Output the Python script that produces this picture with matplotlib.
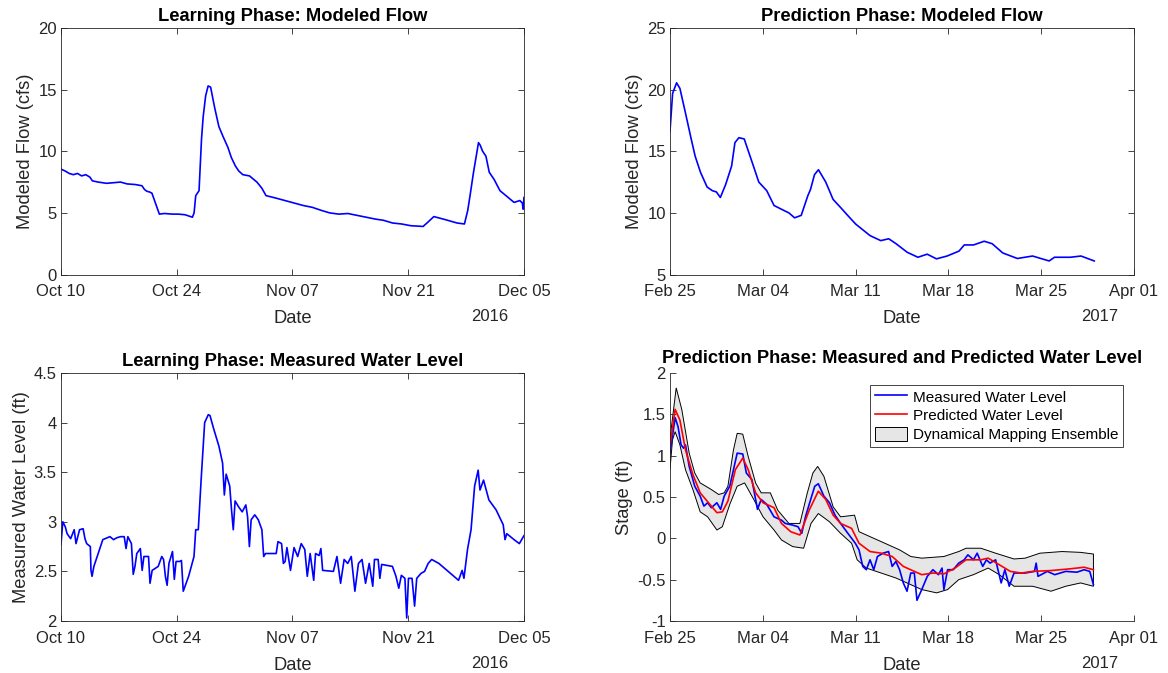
import numpy as np
import pandas as pd
import matplotlib
matplotlib.use('Agg')
import matplotlib.pyplot as plt
import matplotlib.dates as mdates
from matplotlib.patches import Patch
from matplotlib.lines import Line2D

plt.rcParams['font.family'] = ['Liberation Sans', 'DejaVu Sans']
plt.rcParams['axes.unicode_minus'] = False

# ---- data (days after start date) ----
learn_start = pd.Timestamp('2016-10-10')
pred_start = pd.Timestamp('2017-02-25')

flow_learn_day = [
    0, 0.5, 1.0, 1.5, 2.0, 2.5, 3.0, 3.5, 3.8, 4.5,
    5.5, 6.4, 7.2, 8.0, 9.0, 9.8, 10.1, 10.4, 10.7, 11.0,
    11.9, 12.5, 13.5, 14.2, 15.0, 15.9, 16.1, 16.3, 16.5, 16.7,
    17.0, 17.2, 17.5, 17.8, 18.1, 18.6, 19.1, 19.6, 20.2, 20.6,
    21.1, 21.5, 22.0, 22.8, 23.7, 24.3, 24.8, 26.0, 27.1, 28.2,
    29.3, 30.4, 31.5, 32.5, 33.6, 34.7, 35.8, 36.9, 38.0, 39.0,
    40.1, 41.2, 42.3, 43.8, 44.3, 45.1, 46.5, 47.9, 48.8, 49.2,
    49.5, 49.9, 50.3, 50.5, 50.7, 51.0, 51.4, 51.8, 52.4, 53.1,
    54.0, 54.8, 55.5, 55.8, 55.9, 56.0]
flow_learn = [
    8.55, 8.4, 8.2, 8.1, 8.2, 8.0, 8.1, 7.9, 7.6, 7.5,
    7.4, 7.45, 7.5, 7.35, 7.3, 7.2, 6.9, 6.75, 6.7, 6.6,
    4.9, 4.95, 4.9, 4.9, 4.85, 4.65, 5.0, 6.4, 6.6, 6.8,
    11.0, 12.8, 14.5, 15.3, 15.2, 13.5, 12.0, 11.2, 10.3, 9.5,
    8.8, 8.4, 8.1, 8.0, 7.5, 7.0, 6.4, 6.2, 6.0, 5.8,
    5.6, 5.45, 5.2, 5.0, 4.9, 4.95, 4.8, 4.65, 4.5, 4.4,
    4.18, 4.1, 3.96, 3.9, 4.2, 4.7, 4.45, 4.18, 4.1, 5.2,
    6.5, 8.3, 9.9, 10.7, 10.5, 10.0, 9.6, 8.3, 7.7, 6.8,
    6.3, 5.85, 6.0, 5.8, 5.3, 6.25]

flow_pred_day = [
    0, 0.2, 0.5, 0.75, 1.17, 1.6, 1.9, 2.3, 2.8, 3.2,
    3.5, 3.8, 4.2, 4.65, 4.9, 5.2, 5.6, 6.2, 6.7, 7.3,
    7.85, 8.4, 8.97, 9.4, 9.9, 10.4, 10.6, 10.9, 11.2, 11.75,
    12.3, 12.9, 13.4, 14.0, 14.4, 15.1, 15.9, 16.5, 17.05, 17.9,
    18.7, 19.4, 20.1, 20.9, 21.8, 22.2, 22.9, 23.7, 24.3, 25.1,
    26.2, 27.35, 28.6, 29.0, 30.2, 31.0, 32.0]
flow_pred = [
    16.6, 19.7, 20.55, 20.1, 18.1, 16.0, 14.6, 13.3, 12.1, 11.8,
    11.7, 11.25, 12.3, 13.8, 15.7, 16.1, 16.0, 14.1, 12.5, 11.8,
    10.6, 10.3, 10.0, 9.6, 9.8, 11.4, 11.9, 13.1, 13.5, 12.5,
    11.1, 10.4, 9.8, 9.1, 8.75, 8.15, 7.75, 7.9, 7.5, 6.8,
    6.4, 6.65, 6.27, 6.5, 6.9, 7.4, 7.4, 7.7, 7.5, 6.75,
    6.3, 6.5, 6.1, 6.4, 6.4, 6.5, 6.1]

level_learn_day = [
    0, 0.22, 0.52, 0.74, 1.17, 1.6, 1.82, 2.25, 2.68, 2.9,
    3.11, 3.55, 3.63, 3.76, 3.98, 5.06, 5.92, 6.36, 6.79, 7.22,
    7.65, 7.87, 8.09, 8.52, 8.74, 8.95, 9.17, 9.6, 9.82, 10.03,
    10.25, 10.59, 10.77, 11.03, 11.76, 12.19, 12.41, 12.63, 12.84, 13.06,
    13.49, 13.71, 13.92, 14.36, 14.57, 14.79, 15.44, 16.09, 16.3, 16.61,
    16.95, 17.38, 17.82, 18.03, 18.46, 19.11, 19.55, 19.76, 19.98, 20.41,
    20.63, 20.84, 21.06, 21.49, 21.92, 22.36, 22.57, 22.79, 23.0, 23.44,
    23.87, 24.3, 24.52, 24.74, 26.03, 26.25, 26.68, 26.9, 27.11, 27.33,
    27.76, 28.19, 28.63, 29.06, 29.49, 29.79, 30.14, 30.57, 30.79, 31.22,
    31.44, 31.65, 32.95, 33.38, 33.82, 34.25, 34.68, 35.11, 35.55, 35.98,
    36.41, 36.84, 37.28, 37.71, 37.92, 38.36, 38.57, 38.79, 40.09, 40.52,
    40.86, 41.17, 41.6, 41.82, 42.03, 42.46, 42.77, 43.03, 43.55, 43.98,
    44.41, 44.84, 45.71, 48.09, 48.52, 48.74, 49.17, 49.6, 50.03, 50.46,
    50.68, 51.11, 51.76, 52.63, 53.49, 53.71, 53.92, 54.8, 55.44, 56.0]
level_learn = [
    2.77, 3.0, 2.95, 2.88, 2.83, 2.92, 2.78, 2.92, 2.93, 2.83,
    2.78, 2.75, 2.51, 2.45, 2.55, 2.82, 2.85, 2.82, 2.84, 2.85,
    2.85, 2.73, 2.85, 2.78, 2.47, 2.55, 2.68, 2.73, 2.51, 2.65,
    2.65, 2.65, 2.38, 2.51, 2.55, 2.65, 2.62, 2.45, 2.36, 2.58,
    2.70, 2.42, 2.6, 2.6, 2.61, 2.3, 2.45, 2.65, 2.92, 2.92,
    3.42, 4.0, 4.08, 4.07, 3.94, 3.76, 3.59, 3.27, 3.48, 3.36,
    3.12, 2.92, 3.21, 3.15, 3.10, 3.17, 3.05, 2.75, 3.02, 3.07,
    3.02, 2.92, 2.65, 2.68, 2.68, 2.8, 2.78, 2.58, 2.6, 2.74,
    2.51, 2.74, 2.65, 2.78, 2.72, 2.45, 2.68, 2.41, 2.68, 2.66,
    2.73, 2.51, 2.5, 2.65, 2.38, 2.62, 2.58, 2.65, 2.3, 2.58,
    2.62, 2.38, 2.58, 2.35, 2.62, 2.62, 2.43, 2.57, 2.55, 2.45,
    2.33, 2.46, 2.43, 2.03, 2.43, 2.43, 2.15, 2.43, 2.48, 2.5,
    2.58, 2.62, 2.58, 2.41, 2.51, 2.43, 2.72, 2.92, 3.36, 3.52,
    3.32, 3.42, 3.22, 3.12, 2.97, 2.82, 2.88, 2.82, 2.78, 2.86]

ens_upper_day = [
    0, 0.47, 0.89, 1.45, 1.87, 2.28, 3.12, 3.68, 4.09, 4.37,
    4.79, 5.07, 5.49, 5.9, 6.46, 6.88, 7.57, 8.13, 8.97, 9.8,
    10.36, 10.78, 11.14, 11.61, 12.31, 12.87, 13.92, 14.26, 15.09, 16.21,
    17.32, 18.16, 18.99, 20.66, 21.78, 22.33, 23.45, 24.56, 25.95, 26.79,
    27.9, 29.57, 30.97, 31.94]
ens_upper = [
    1.2, 1.82, 1.56, 1.03, 0.79, 0.67, 0.59, 0.53, 0.55, 0.63,
    1.07, 1.27, 1.26, 0.99, 0.67, 0.55, 0.55, 0.34, 0.18, 0.18,
    0.55, 0.79, 0.87, 0.75, 0.38, 0.26, 0.28, 0.08, 0.02, -0.06,
    -0.14, -0.22, -0.24, -0.22, -0.16, -0.12, -0.12, -0.18, -0.25, -0.24,
    -0.18, -0.16, -0.17, -0.19]

ens_lower_day = [
    0, 0.19, 0.39, 0.75, 1.17, 1.73, 2.28, 2.84, 3.54, 3.95,
    4.51, 5.07, 5.63, 6.32, 7.02, 7.85, 8.41, 9.25, 10.08, 10.64,
    11.19, 12.03, 12.87, 13.7, 14.12, 14.81, 15.93, 17.04, 17.88, 18.99,
    20.11, 20.94, 21.78, 22.89, 24.0, 24.84, 25.95, 27.35, 28.74, 29.85,
    30.97, 31.94]
ens_lower = [
    0.83, 1.19, 1.29, 1.13, 0.83, 0.59, 0.32, 0.26, 0.10, 0.14,
    0.41, 0.63, 0.67, 0.47, 0.26, 0.10, -0.02, -0.1, -0.12, 0.18,
    0.30, 0.20, 0.06, -0.06, -0.26, -0.36, -0.42, -0.48, -0.54, -0.62,
    -0.66, -0.62, -0.50, -0.44, -0.36, -0.44, -0.58, -0.58, -0.64, -0.58,
    -0.54, -0.58]

predicted_day = [
    0, 0.39, 0.75, 1.17, 1.73, 2.28, 3.12, 3.54, 3.95, 4.37,
    4.93, 5.49, 5.9, 6.46, 7.02, 7.85, 8.41, 9.11, 9.8, 10.5,
    11.19, 11.75, 12.31, 12.87, 13.7, 14.26, 15.09, 15.93, 16.76, 17.6,
    18.43, 18.99, 19.83, 20.66, 21.5, 22.33, 23.45, 24.0, 24.84, 25.67,
    26.51, 27.35, 28.74, 30.13, 31.24, 31.94]
predicted = [
    1.11, 1.56, 1.43, 1.07, 0.77, 0.55, 0.39, 0.31, 0.32, 0.45,
    0.83, 0.97, 0.83, 0.55, 0.43, 0.37, 0.18, 0.08, 0.04, 0.34,
    0.57, 0.47, 0.28, 0.18, 0.12, -0.06, -0.16, -0.18, -0.22, -0.34,
    -0.40, -0.44, -0.42, -0.43, -0.36, -0.26, -0.26, -0.24, -0.32, -0.40,
    -0.42, -0.40, -0.39, -0.37, -0.35, -0.38]

measured_day = [
    0, 0.39, 0.61, 0.84, 1.03, 1.17, 1.45, 1.87, 2.28, 2.56,
    2.84, 3.12, 3.54, 3.82, 4.09, 4.51, 4.79, 5.07, 5.49, 5.76,
    6.18, 6.6, 6.88, 7.3, 7.85, 8.41, 8.69, 9.25, 9.66, 9.94,
    10.22, 10.5, 10.92, 11.19, 11.61, 12.03, 12.45, 12.87, 13.42, 13.98,
    14.26, 14.54, 14.81, 15.09, 15.37, 15.65, 16.07, 16.49, 16.76, 17.04,
    17.32, 17.6, 17.88, 18.16, 18.43, 18.63, 18.99, 19.41, 19.83, 20.25,
    20.52, 20.66, 20.94, 21.36, 21.78, 22.19, 22.47, 22.89, 23.17, 23.59,
    23.87, 24.14, 24.56, 24.98, 25.26, 25.59, 25.95, 26.79, 27.49, 27.62,
    27.76, 28.46, 29.02, 29.85, 30.69, 31.24, 31.66, 31.94]
measured = [
    1.03, 1.46, 1.35, 1.13, 1.09, 1.13, 0.87, 0.63, 0.51, 0.39,
    0.43, 0.37, 0.43, 0.35, 0.51, 0.63, 0.83, 1.03, 1.02, 0.79,
    0.71, 0.35, 0.47, 0.41, 0.26, 0.22, 0.18, 0.16, 0.14, 0.06,
    0.26, 0.41, 0.63, 0.66, 0.51, 0.43, 0.28, 0.18, 0.06, -0.06,
    -0.14, -0.34, -0.38, -0.26, -0.38, -0.22, -0.18, -0.16, -0.34, -0.28,
    -0.38, -0.54, -0.64, -0.42, -0.42, -0.75, -0.62, -0.46, -0.38, -0.44,
    -0.36, -0.62, -0.38, -0.38, -0.30, -0.26, -0.20, -0.26, -0.18, -0.34,
    -0.26, -0.30, -0.26, -0.54, -0.38, -0.58, -0.42, -0.42, -0.40, -0.30,
    -0.46, -0.40, -0.44, -0.40, -0.41, -0.38, -0.40, -0.56]


def to_dates(start, days):
    return start + pd.to_timedelta(np.array(days), unit='D')


dark = (0.15, 0.15, 0.15)
fs_tick = 12
fs_lab = 13.2

fig = plt.figure(figsize=(11.68, 6.73), dpi=100)
ax1 = fig.add_axes([0.0522, 0.5921, 0.3964, 0.3663])
ax2 = fig.add_axes([0.5736, 0.5921, 0.3973, 0.3663])
ax3 = fig.add_axes([0.0522, 0.0773, 0.3964, 0.3685])
ax4 = fig.add_axes([0.5736, 0.0773, 0.3973, 0.3685])


def style(ax, start, end, ticks, year, box=True):
    ax.set_xlim(start, end)
    ax.set_xticks(ticks)
    ax.xaxis.set_major_formatter(mdates.DateFormatter('%b %d'))
    ax.tick_params(direction='in', length=4, width=0.6, colors=dark,
                   labelsize=fs_tick, top=box, right=box)
    ax.tick_params(axis='x', pad=7)
    ax.tick_params(axis='y', pad=3)
    for s in ax.spines.values():
        s.set_color(dark)
        s.set_linewidth(0.6)
    if not box:
        ax.spines['top'].set_visible(False)
        ax.spines['right'].set_visible(False)
    ax.set_xlabel('Date', fontsize=fs_lab, color=dark, labelpad=8)
    ax.annotate(year, xy=(1, 0), xycoords='axes fraction',
                xytext=(-25, -30.5), textcoords='offset points',
                ha='center', va='center', fontsize=fs_tick, color=dark)


learn_ticks = pd.date_range('2016-10-10', '2016-12-05', freq='14D')
pred_ticks = pd.date_range('2017-02-25', '2017-04-01', freq='7D')

# Learning phase: modeled flow
ax1.plot(to_dates(learn_start, flow_learn_day), flow_learn, color='b', lw=1.2)
style(ax1, learn_ticks[0], learn_ticks[-1], learn_ticks, '2016')
ax1.set_ylim(0, 20)
ax1.set_yticks([0, 5, 10, 15, 20])
ax1.set_ylabel('Modeled Flow (cfs)', fontsize=fs_lab, color=dark, labelpad=3)
ax1.set_title('Learning Phase: Modeled Flow', fontsize=fs_lab, fontweight='bold', pad=5)

# Prediction phase: modeled flow
ax2.plot(to_dates(pred_start, flow_pred_day), flow_pred, color='b', lw=1.2)
style(ax2, pred_ticks[0], pred_ticks[-1], pred_ticks, '2017')
ax2.set_ylim(5, 25)
ax2.set_yticks([5, 10, 15, 20, 25])
ax2.set_ylabel('Modeled Flow (cfs)', fontsize=fs_lab, color=dark, labelpad=3)
ax2.set_title('Prediction Phase: Modeled Flow', fontsize=fs_lab, fontweight='bold', pad=5)

# Learning phase: measured water level
ax3.plot(to_dates(learn_start, level_learn_day), level_learn, color='b', lw=1.2)
style(ax3, learn_ticks[0], learn_ticks[-1], learn_ticks, '2016')
ax3.set_ylim(2, 4.5)
ax3.set_yticks([2, 2.5, 3, 3.5, 4, 4.5])
ax3.set_yticklabels(['2', '2.5', '3', '3.5', '4', '4.5'])
ax3.set_ylabel('Measured Water Level (ft)', fontsize=fs_lab, color=dark, labelpad=3)
ax3.set_title('Learning Phase: Measured Water Level', fontsize=fs_lab, fontweight='bold', pad=5)

# Prediction phase: measured and predicted water level
up_x = to_dates(pred_start, ens_upper_day)
lo_x = to_dates(pred_start, ens_lower_day)
poly_x = np.concatenate([mdates.date2num(up_x), mdates.date2num(lo_x)[::-1]])
poly_y = np.concatenate([ens_upper, ens_lower[::-1]])
ax4.fill(poly_x, poly_y, facecolor=(0.9, 0.9, 0.9), edgecolor='k', lw=0.7)
ax4.plot(to_dates(pred_start, measured_day), measured, color='b', lw=1.2)
ax4.plot(to_dates(pred_start, predicted_day), predicted, color='r', lw=1.2)
style(ax4, pred_ticks[0], pred_ticks[-1], pred_ticks, '2017', box=False)
ax4.set_ylim(-1, 2)
ax4.set_yticks([-1, -0.5, 0, 0.5, 1, 1.5, 2])
ax4.set_yticklabels(['-1', '-0.5', '0', '0.5', '1', '1.5', '2'])
ax4.set_ylabel('Stage (ft)', fontsize=fs_lab, color=dark, labelpad=3)
ax4.set_title('Prediction Phase: Measured and Predicted Water Level',
              fontsize=fs_lab, fontweight='bold', pad=7)
handles = [Line2D([], [], color='b', lw=1.2),
           Line2D([], [], color='r', lw=1.2),
           Patch(facecolor=(0.9, 0.9, 0.9), edgecolor='k', lw=0.7)]
leg = ax4.legend(handles, ['Measured Water Level', 'Predicted Water Level',
                           'Dynamical Mapping Ensemble'],
                 loc='upper right', bbox_to_anchor=(0.976, 0.952), borderaxespad=0,
                 fontsize=11, fancybox=False, framealpha=1, handlelength=2.1,
                 handleheight=1.0, labelspacing=0.25, borderpad=0.3,
                 handletextpad=0.4)
leg.get_frame().set_edgecolor(dark)
leg.get_frame().set_linewidth(0.6)

fig.savefig('out.png', dpi=100)
